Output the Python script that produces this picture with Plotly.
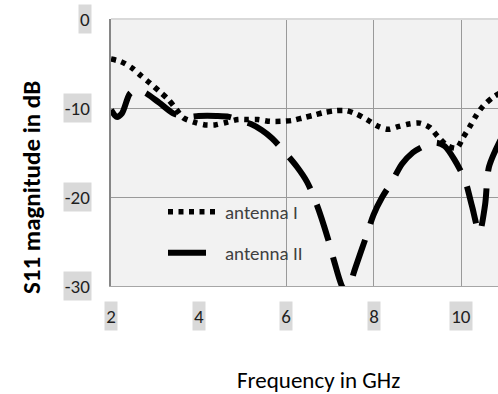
import plotly.graph_objects as go

# S11 reflection coefficient of two antennas over frequency
freq_1 = [2.0, 2.23, 2.48, 2.69, 2.89, 3.1, 3.3, 3.5, 3.65, 3.9, 4.15, 4.38, 4.65, 4.9, 5.1,
          5.36, 5.63, 5.88, 6.14, 6.39, 6.64, 6.87, 7.14, 7.39, 7.62, 7.85, 8.08, 8.33,
          8.56, 8.81, 9.06, 9.29, 9.47, 9.68, 9.9, 10.05, 10.2, 10.34, 10.5, 10.73, 10.9]
s11_1 = [-4.5, -4.8, -5.5, -6.4, -7.2, -8.1, -9.0, -10.2, -11.1, -11.6, -11.9, -11.9, -11.6,
         -11.3, -11.3, -11.3, -11.5, -11.5, -11.4, -11.1, -10.8, -10.5, -10.3, -10.3, -10.7,
         -11.3, -12.0, -12.4, -12.1, -11.8, -11.7, -12.2, -13.2, -14.2, -14.5, -13.3, -12.1,
         -10.9, -9.8, -8.8, -8.3]

freq_2 = [2.0, 2.13, 2.25, 2.43, 2.6, 2.82, 3.1, 3.42, 3.7, 4.0, 4.4, 4.7, 5.0, 5.2, 5.45,
          5.68, 5.98, 6.25, 6.48, 6.7, 6.96, 7.1, 7.3, 7.42, 7.55, 7.85, 8.0, 8.2, 8.42,
          8.65, 8.9, 9.1, 9.3, 9.45, 9.63, 9.85, 10.09, 10.25, 10.42, 10.55, 10.64, 10.9]
s11_2 = [-10.2, -11.0, -10.6, -8.4, -7.9, -8.4, -9.4, -10.6, -11.0, -10.9, -10.9, -11.0,
         -11.5, -11.8, -12.5, -13.4, -15.0, -16.6, -18.3, -20.8, -24.7, -27.2, -30.2, -30.6,
         -28.5, -24.2, -22.0, -20.0, -18.3, -16.3, -15.0, -14.4, -14.0, -13.9, -14.3, -15.8,
         -18.1, -21.0, -24.0, -20.9, -16.6, -13.6]

x_ticks = [2, 4, 6, 8, 10]
y_ticks = [0, -10, -20, -30]
x_grid = [6, 8, 10]
y_grid = [-10, -20]

FONT = "Carlito, Lato, sans-serif"
TEXT = "#1f1f1f"
LABEL_BG = "#d9d9d9"


def label_width(t):
    # shaded box just wide enough for the label text
    if t.startswith("-"):
        return 27
    return 12 if len(t) == 1 else 22


fig = go.Figure()
fig.add_trace(go.Scatter(
    x=freq_1, y=s11_1, mode="lines", name="antenna I",
    line=dict(color="black", width=5.5, dash="5px,5.5px", shape="spline", smoothing=0.8),
    legend="legend",
))
fig.add_trace(go.Scatter(
    x=freq_2, y=s11_2, mode="lines", name="antenna II",
    line=dict(color="black", width=6, dash="38px,17px", shape="spline", smoothing=0.8),
    legend="legend2",
))

annotations = []
# tick labels on shaded boxes
for v in x_ticks:
    t = str(v)
    annotations.append(dict(
        x=v, y=0, xref="x", yref="paper", text=t, showarrow=False,
        xanchor="center", yanchor="top", yshift=-15,
        width=label_width(t), height=28, borderpad=0,
        bgcolor=LABEL_BG, font=dict(family=FONT, size=19, color=TEXT),
    ))
for v in y_ticks:
    t = str(v)
    annotations.append(dict(
        x=0, y=v, xref="paper", yref="y", text=t, showarrow=False,
        xanchor="right", yanchor="middle", xshift=-19,
        width=label_width(t), height=28, borderpad=0,
        bgcolor=LABEL_BG, font=dict(family=FONT, size=19, color=TEXT),
    ))
# axis titles
annotations.append(dict(
    x=0, y=(286 - 188) / 267, xref="paper", yref="paper", text="<b>S11 magnitude in dB</b>",
    showarrow=False, textangle=-90, xanchor="center", yanchor="middle", xshift=-80,
    font=dict(family=FONT, size=25, color="black"),
))
annotations.append(dict(
    x=(318 - 111) / 387, y=-(380 - 286) / 267, xref="paper", yref="paper",
    text="Frequency in GHz", showarrow=False, xanchor="center", yanchor="middle",
    font=dict(family=FONT, size=23, color="black"),
))

legend_style = dict(
    bgcolor="rgba(0,0,0,0)", borderwidth=0, xanchor="left", yanchor="middle",
    font=dict(family=FONT, size=19, color="#404040"), itemwidth=52,
)

fig.update_layout(
    width=498, height=394,
    margin=dict(l=111, r=0, t=19, b=108),
    paper_bgcolor="white", plot_bgcolor="#f2f2f2",
    showlegend=True,
    legend=dict(x=(163 - 111) / 387, y=(286 - 212) / 267, **legend_style),
    legend2=dict(x=(163 - 111) / 387, y=(286 - 253) / 267, **legend_style),
    xaxis=dict(
        range=[2, 2 + 387 / 43.75], tickvals=x_grid, showticklabels=False,
        showgrid=True, gridcolor="#9a9a9a", gridwidth=1, zeroline=False,
        showline=True, linecolor="#a6a6a6", linewidth=1, ticks="", fixedrange=True,
    ),
    yaxis=dict(
        range=[-30, 0], tickvals=y_grid, showticklabels=False,
        showgrid=True, gridcolor="#9a9a9a", gridwidth=1, zeroline=False,
        showline=True, linecolor="#868686", linewidth=1.5, ticks="", fixedrange=True,
    ),
    shapes=[dict(type="line", xref="paper", yref="paper", x0=0, x1=1, y0=1, y1=1,
                 line=dict(color="#d9d9d9", width=2))],
    annotations=annotations,
)

fig.write_html("out.html")
